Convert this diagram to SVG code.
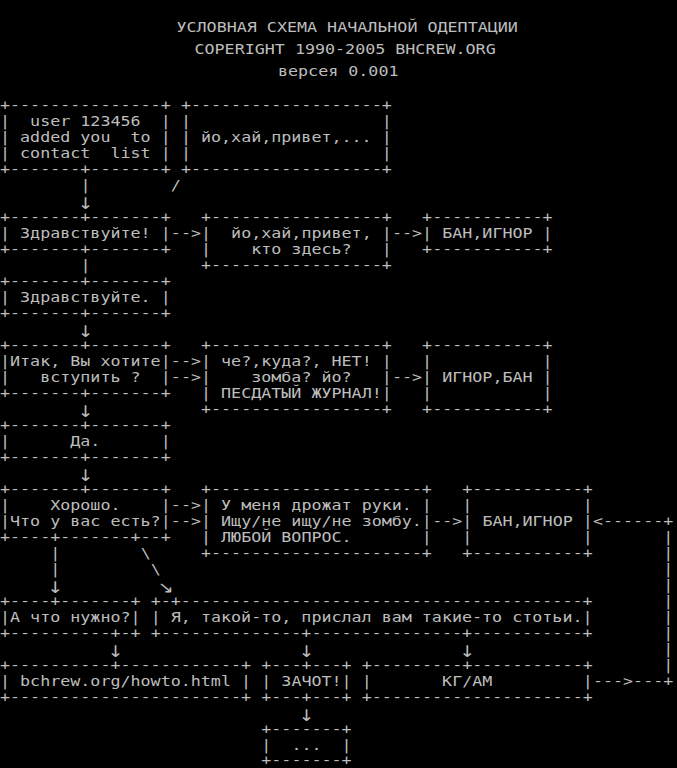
<svg xmlns="http://www.w3.org/2000/svg" width="677" height="768" viewBox="0 0 677 768" xml:space="preserve">
<style>
text { font-family: "DejaVu Sans Mono", "Liberation Mono", monospace; font-size: 14px; fill: #bdbdbd; white-space: pre; }
text.arr { font-family: "DejaVu Sans", "Noto Sans", sans-serif; font-size: 16px; text-anchor: middle; }
</style>
<rect x="0" y="0" width="677" height="768" fill="#000"/>
<g transform="scale(1.19235,1)">
<g id="title">
<text x="148.03" y="32.5">УСЛОВНАЯ СХЕМА НАЧАЛЬНОЙ ОДЕПТАЦИИ</text>
<text x="163.12" y="54.3">COPERIGHT 1990-2005 BHCREW.ORG</text>
<text x="233.15" y="76">версея 0.001</text>
</g>
<g id="n-contact">
<text x="0" y="110">+---------------+</text>
<text x="0" y="126">|  user 123456  |</text>
<text x="0" y="142">| added you  to |</text>
<text x="0" y="158">| contact  list |</text>
<text x="0" y="174">+-------+-------+</text>
</g>
<g id="n-hi">
<text x="151.72" y="110">+-------------------+</text>
<text x="151.72" y="126">|                   |</text>
<text x="151.72" y="142">| йо,хай,привет,... |</text>
<text x="151.72" y="158">|                   |</text>
<text x="151.72" y="174">+-------------------+</text>
</g>
<g id="n-zdr1">
<text x="0" y="222">+-------+-------+</text>
<text x="0" y="238">| Здравствуйте! |</text>
<text x="0" y="254">+-------+-------+</text>
</g>
<g id="n-yo">
<text x="168.57" y="222">+-----------------+</text>
<text x="168.57" y="238">|  йо,хай,привет, |</text>
<text x="168.57" y="254">|    кто здесь?   |</text>
<text x="168.57" y="270">+-----------------+</text>
</g>
<g id="n-ban1">
<text x="354.01" y="222">+-----------+</text>
<text x="354.01" y="238">| БАН,ИГНОР |</text>
<text x="354.01" y="254">+-----------+</text>
</g>
<g id="n-zdr2">
<text x="0" y="286">+-------+-------+</text>
<text x="0" y="302">| Здравствуйте. |</text>
<text x="0" y="318">+-------+-------+</text>
</g>
<g id="n-itak">
<text x="0" y="350">+-------+-------+</text>
<text x="0" y="366">|Итак, Вы хотите|</text>
<text x="0" y="382">|   вступить ?  |</text>
<text x="0" y="398">+-------+-------+</text>
</g>
<g id="n-che">
<text x="168.57" y="350">+-----------------+</text>
<text x="168.57" y="366">| че?,куда?, НЕТ! |</text>
<text x="168.57" y="382">|    зомба? йо?   |</text>
<text x="168.57" y="398">| ПЕСДАТЫЙ ЖУРНАЛ!|</text>
<text x="168.57" y="414">+-----------------+</text>
</g>
<g id="n-ignor">
<text x="354.01" y="350">+-----------+</text>
<text x="354.01" y="366">|           |</text>
<text x="354.01" y="382">| ИГНОР,БАН |</text>
<text x="354.01" y="398">|           |</text>
<text x="354.01" y="414">+-----------+</text>
</g>
<g id="n-da">
<text x="0" y="430">+-------+-------+</text>
<text x="0" y="446">|      Да.      |</text>
<text x="0" y="462">+-------+-------+</text>
</g>
<g id="n-horosho">
<text x="0" y="494">+-------+-------+</text>
<text x="0" y="510">|    Хорошо.    |</text>
<text x="0" y="526">|Что у вас есть?|</text>
<text x="0" y="542">+----+-------+--+</text>
</g>
<g id="n-drozh">
<text x="168.57" y="494">+---------------------+</text>
<text x="168.57" y="510">| У меня дрожат руки. |</text>
<text x="168.57" y="526">| Ищу/не ищу/не зомбу.|</text>
<text x="168.57" y="542">| ЛЮБОЙ ВОПРОС.       |</text>
<text x="168.57" y="558">+---------------------+</text>
</g>
<g id="n-ban2">
<text x="387.72" y="494">+-----------+</text>
<text x="387.72" y="510">|           |</text>
<text x="387.72" y="526">| БАН,ИГНОР |</text>
<text x="387.72" y="542">|           |</text>
<text x="387.72" y="558">+-----------+</text>
</g>
<g id="n-chto">
<text x="0" y="606">+----+-------+</text>
<text x="0" y="622">|А что нужно?|</text>
<text x="0" y="638">+----------+-+</text>
</g>
<g id="n-ya">
<text x="126.43" y="606">+-+----------------------------------------+</text>
<text x="126.43" y="622">| Я, такой-то, прислал вам такие-то стотьи.|</text>
<text x="126.43" y="638">+--------------+---------------+-----------+</text>
</g>
<g id="n-howto">
<text x="0" y="670">+----------+------------+</text>
<text x="0" y="686">| bchrew.org/howto.html |</text>
<text x="0" y="702">+-----------------------+</text>
</g>
<g id="n-zachot">
<text x="219.15" y="670">+---+---+</text>
<text x="219.15" y="686">| ЗАЧОТ!|</text>
<text x="219.15" y="702">+---+---+</text>
</g>
<g id="n-kgam">
<text x="303.43" y="670">+---------+-----------+</text>
<text x="303.43" y="686">|       КГ/АМ         |</text>
<text x="303.43" y="702">+---------------------+</text>
</g>
<g id="n-dots">
<text x="219.15" y="734">+-------+</text>
<text x="219.15" y="750">|  ...  |</text>
<text x="219.15" y="765">+-------+</text>
</g>
<g id="connectors">
<text x="67.43" y="190">|</text>
<text x="143.29" y="190">/</text>
<text class="arr" x="71.64" y="209">↓</text>
<text x="143.29" y="238">--&gt;</text>
<text x="328.72" y="238">--&gt;</text>
<text x="67.43" y="270">|</text>
<text class="arr" x="71.64" y="337">↓</text>
<text x="143.29" y="366">--&gt;</text>
<text x="143.29" y="382">--&gt;</text>
<text x="328.72" y="382">--&gt;</text>
<text class="arr" x="71.64" y="417">↓</text>
<text class="arr" x="71.64" y="481">↓</text>
<text x="143.29" y="510">--&gt;</text>
<text x="143.29" y="526">--&gt;</text>
<text x="362.43" y="526">--&gt;</text>
<text x="497.29" y="526">&lt;------+</text>
<text x="556.29" y="542">|</text>
<text x="42.14" y="558">|</text>
<text x="118.00" y="558">\</text>
<text x="556.29" y="558">|</text>
<text x="42.14" y="574">|</text>
<text x="126.43" y="574">\</text>
<text x="556.29" y="574">|</text>
<text class="arr" x="46.35" y="593">↓</text>
<text class="arr" x="139.07" y="593">↘</text>
<text x="556.29" y="590">|</text>
<text x="556.29" y="606">|</text>
<text x="556.29" y="622">|</text>
<text x="556.29" y="638">|</text>
<text class="arr" x="96.93" y="657">↓</text>
<text class="arr" x="257.07" y="657">↓</text>
<text class="arr" x="391.93" y="657">↓</text>
<text x="556.29" y="654">|</text>
<text x="556.29" y="670">|</text>
<text x="497.29" y="686">---&gt;---+</text>
<text class="arr" x="257.07" y="721">↓</text>
</g>
</g>
</svg>
